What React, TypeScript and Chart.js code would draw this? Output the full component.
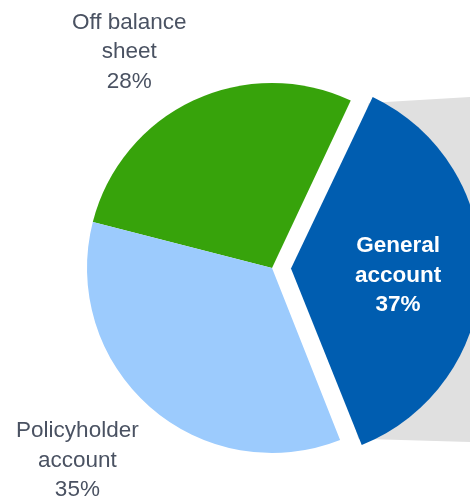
import React, { useEffect, useRef } from "react";
import { Chart, registerables } from "chart.js";

Chart.register(...registerables);

// ---- data ----
const categories = ["Off balance sheet", "General account", "Policyholder account"];
const labelLines = [["Off balance", "sheet"], ["General", "account"], ["Policyholder", "account"]];
const shares = [28, 37, 35];

// ---- style ----
const colors = ["#37a30b", "#005db0", "#9ccbfd"];
const explode = [0, 19, 0]; // visual shift in px (Chart.js translates by offset/4)
// label placement relative to slice: delta from mid-angle (deg), distance factor of radius
const labelPlace = [
  { dAngle: -8.25, factor: 1.40, color: "#4a5262", bold: false },
  { dAngle: 2, factor: 0.58, color: "#ffffff", bold: true },
  { dAngle: 3.9, factor: 1.48, color: "#4a5262", bold: false },
];
const FONT = '"Liberation Sans", Arial, Helvetica, sans-serif';
const FONT_SIZE = 22.5;
const LINE_H = 29.5;
const connectorColor = "#e0e0e0";
const connectorRightTopY = 97;
const connectorRightBottomY = 442;

function arcGeom(arc: any, i: number) {
  const p = arc.getProps(["x", "y", "startAngle", "endAngle", "outerRadius"], true);
  const mid = (p.startAngle + p.endAngle) / 2;
  const off = explode[i];
  return {
    ...p,
    mid,
    cx: p.x + Math.cos(mid) * off,
    cy: p.y + Math.sin(mid) * off,
  };
}

const connectorPlugin = {
  id: "connector",
  beforeDatasetsDraw(chart: any) {
    const meta = chart.getDatasetMeta(0);
    const arc = meta.data[1];
    if (!arc) return;
    const g = arcGeom(arc, 1);
    const ctx = chart.ctx;
    const r = g.outerRadius - 2;
    const tx = g.cx + Math.cos(g.startAngle) * r;
    const ty = g.cy + Math.sin(g.startAngle) * r;
    const bx = g.cx + Math.cos(g.endAngle) * r;
    const by = g.cy + Math.sin(g.endAngle) * r;
    const W = chart.width;
    ctx.save();
    ctx.fillStyle = connectorColor;
    ctx.beginPath();
    ctx.moveTo(tx, ty);
    ctx.lineTo(W + 2, connectorRightTopY);
    ctx.lineTo(W + 2, connectorRightBottomY);
    ctx.lineTo(bx, by);
    ctx.lineTo(g.cx + 20, g.cy);
    ctx.closePath();
    ctx.fill();
    ctx.restore();
  },
};

const labelPlugin = {
  id: "sliceLabels",
  afterDatasetsDraw(chart: any) {
    const meta = chart.getDatasetMeta(0);
    const ctx = chart.ctx;
    meta.data.forEach((arc: any, i: number) => {
      const g = arcGeom(arc, i);
      const lp = labelPlace[i];
      const a = g.mid + (lp.dAngle * Math.PI) / 180;
      const x = g.cx + Math.cos(a) * g.outerRadius * lp.factor;
      const y = g.cy + Math.sin(a) * g.outerRadius * lp.factor;
      const lines = [...labelLines[i], shares[i] + "%"];
      ctx.save();
      ctx.fillStyle = lp.color;
      ctx.font = `${lp.bold ? "bold " : ""}${FONT_SIZE}px ${FONT}`;
      ctx.textAlign = "center";
      ctx.textBaseline = "middle";
      lines.forEach((t, j) => {
        ctx.fillText(t, x, y + (j - (lines.length - 1) / 2) * LINE_H);
      });
      ctx.restore();
    });
  },
};

export default function App() {
  const ref = useRef<HTMLCanvasElement>(null);
  useEffect(() => {
    if (!ref.current) return;
    const chart = new Chart(ref.current, {
      type: "pie",
      data: {
        labels: categories,
        datasets: [
          {
            data: shares,
            backgroundColor: colors,
            borderWidth: 0,
            offset: explode.map((v) => v * 4),
            hoverOffset: 0,
          },
        ],
      },
      options: {
        responsive: false,
        animation: false,
        rotation: -75.6,
        radius: 185,
        layout: { padding: { left: 74, right: 0, top: 35, bottom: 0 } },
        plugins: {
          legend: { display: false },
          tooltip: { enabled: false },
        },
        events: [],
      } as any,
      plugins: [connectorPlugin, labelPlugin],
    });
    return () => chart.destroy();
  }, []);
  return (
    <div style={{ position: "fixed", left: 0, top: 0, width: 470, height: 501, background: "#fff" }}>
      <canvas ref={ref} width={470} height={501} style={{ display: "block" }} />
    </div>
  );
}
